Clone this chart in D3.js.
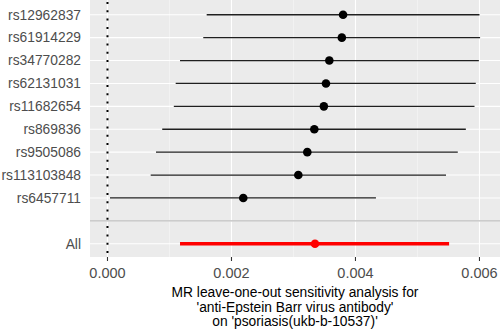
<!DOCTYPE html>
<html><head><meta charset="utf-8">
<script src="https://cdn.jsdelivr.net/npm/d3@7"></script>
<style>body{margin:0;background:#fff}svg{display:block}text{font-family:"Liberation Sans",Arial,sans-serif}</style>
</head><body><svg id="c" width="500" height="331"></svg>
<script>
const snps = ["rs12962837","rs61914229","rs34770282","rs62131031","rs11682654","rs869836","rs9505086","rs113103848","rs6457711"];
const estimates = [0.003800,0.003780,0.003578,0.003524,0.003490,0.003336,0.003223,0.003078,0.002190];
const lowers = [0.001600,0.001545,0.001170,0.001100,0.001070,0.000883,0.000782,0.000697,0.000040];
const uppers = [0.006000,0.006010,0.005990,0.005940,0.005920,0.005780,0.005650,0.005460,0.004330];
const allLabel = "All";
const allEstimate = 0.003347, allLower = 0.001170, allUpper = 0.005510;
const xTicks = [0,0.002,0.004,0.006];
const xMinor = [0.001,0.003,0.005];
const titleLines = ["MR leave-one-out sensitivity analysis for","'anti-Epstein Barr virus antibody'","on 'psoriasis(ukb-b-10537)'"];

const svg = d3.select("#c");
const P = {l:90, r:500, t:0, b:257};
const x = d3.scaleLinear().domain([-0.000282, 0.006331]).range([P.l, P.r]);
const levels = [...snps, "", allLabel];
const y = d3.scalePoint().domain(levels).range([1, 257.5]).padding(0.6);

svg.append("rect").attr("x",P.l).attr("y",P.t).attr("width",P.r-P.l).attr("height",P.b-P.t).attr("fill","#ebebeb");
const g = svg.append("g");
g.selectAll(".mn").data(xMinor).join("line").attr("x1",d=>x(d)).attr("x2",d=>x(d)).attr("y1",P.t).attr("y2",P.b).attr("stroke","#f5f5f5").attr("stroke-width",0.6);
g.selectAll(".mj").data(xTicks).join("line").attr("x1",d=>x(d)).attr("x2",d=>x(d)).attr("y1",P.t).attr("y2",P.b).attr("stroke","#fff").attr("stroke-width",1.1);
g.selectAll(".hy").data(levels).join("line").attr("x1",P.l).attr("x2",P.r).attr("y1",d=>y(d)).attr("y2",d=>y(d)).attr("stroke","#fff").attr("stroke-width",1.1);
// separator
g.append("line").attr("x1",P.l).attr("x2",P.r).attr("y1",y("")).attr("y2",y("")).attr("stroke","#bdbdbd").attr("stroke-width",1.3);
// zero line
g.append("line").attr("x1",x(0)).attr("x2",x(0)).attr("y1",P.t).attr("y2",P.b).attr("stroke","#000").attr("stroke-width",2).attr("stroke-dasharray","2 6.3").attr("stroke-dashoffset",-2);

const rows = snps.map((s,i)=>({s, e:estimates[i], lo:lowers[i], hi:uppers[i]}));
g.selectAll(".eb").data(rows).join("line").attr("x1",d=>x(d.lo)).attr("x2",d=>x(d.hi)).attr("y1",d=>y(d.s)).attr("y2",d=>y(d.s)).attr("stroke","#1f1f1f").attr("stroke-width",1.3);
g.selectAll(".pt").data(rows).join("circle").attr("cx",d=>x(d.e)).attr("cy",d=>y(d.s)).attr("r",4.3).attr("fill","#000");
g.append("line").attr("x1",x(allLower)).attr("x2",x(allUpper)).attr("y1",y(allLabel)).attr("y2",y(allLabel)).attr("stroke","#ff0000").attr("stroke-width",3.6);
g.append("circle").attr("cx",x(allEstimate)).attr("cy",y(allLabel)).attr("r",4.3).attr("fill","#ff0000");

// y labels
svg.selectAll(".yl").data(levels).join("text").attr("x",81).attr("y",d=>y(d)).attr("dy","0.35em").attr("text-anchor","end").attr("font-size",13.8).attr("fill","#4d4d4d").text(d=>d);
// x ticks
svg.selectAll(".xt").data(xTicks).join("line").attr("x1",d=>x(d)).attr("x2",d=>x(d)).attr("y1",P.b).attr("y2",P.b+4).attr("stroke","#333").attr("stroke-width",1.1);
svg.selectAll(".xl").data(xTicks).join("text").attr("x",d=>x(d)).attr("y",278).attr("text-anchor","middle").attr("font-size",14.5).attr("fill","#4d4d4d").text(d3.format(".3f"));
svg.selectAll(".tt").data(titleLines).join("text").attr("x",295).attr("y",(d,i)=>297+i*14.5).attr("text-anchor","middle").attr("font-size",13.8).attr("fill","#000").text(d=>d);
</script></body></html>
